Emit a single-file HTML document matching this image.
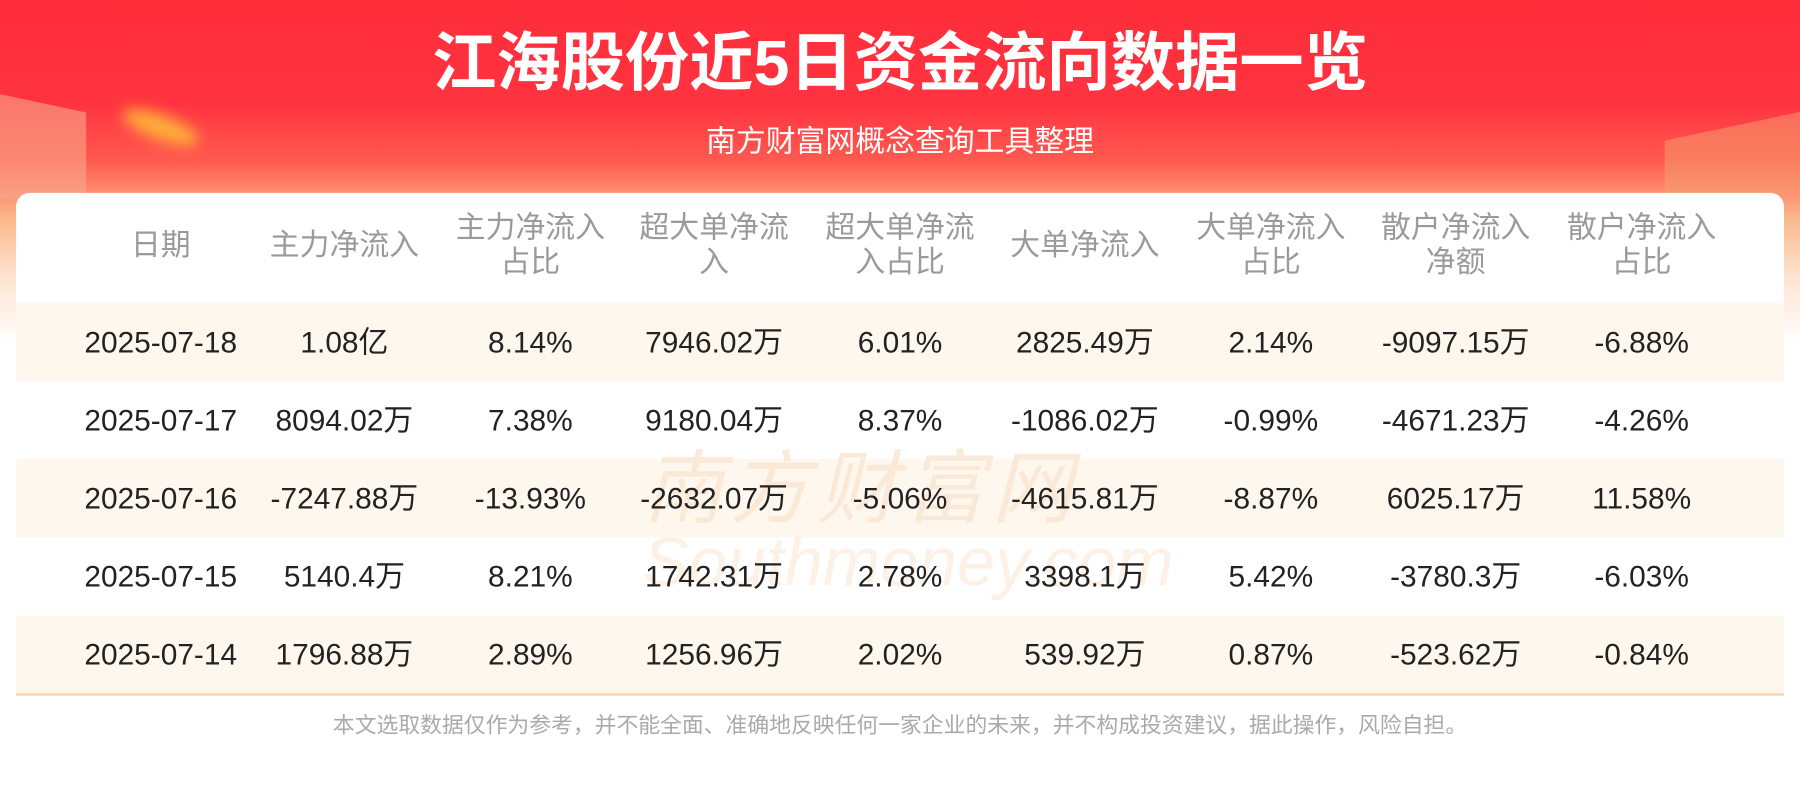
<!DOCTYPE html>
<html><head><meta charset="utf-8"><style>
html,body{margin:0;padding:0;width:1800px;height:800px;overflow:hidden;background:#fff}
#w{position:absolute;left:0;top:0;width:1568px;height:697px;transform:scale(1.148,1.148);transform-origin:0 0;font-family:"Liberation Sans","Noto Sans CJK SC",sans-serif;
background:linear-gradient(180deg,#ff2d3a 0px,#ff3340 90px,#ff5a50 140px,#fbb88a 190px,#fde3cf 240px,#fff 300px)}
.t{position:absolute;left:0;width:1568px;text-align:center;color:#fff}
#card{position:absolute;left:14px;top:168px;width:1540px;height:530px;background:#fff;border-radius:12px 12px 0 0}
.row{position:absolute;left:14px;width:1540px;height:68px}
.c{position:absolute;transform:translateX(-50%);text-align:center;white-space:nowrap}
.h{color:#9a9a9a;font-size:26px;line-height:30px}
.d{color:#222;font-size:26px;line-height:68px}
.glow{position:absolute;border-radius:50%;filter:blur(6px)}
</style></head><body><div id="w">
<div class="glow" style="left:105px;top:100px;width:70px;height:22px;background:#ffab3a;transform:rotate(20deg)"></div>
<div style="position:absolute;left:0;top:90px;width:75px;height:90px;background:#f8a78a;transform:skewY(12deg);opacity:.6"></div>
<div style="position:absolute;left:1450px;top:110px;width:118px;height:70px;background:#f5a170;opacity:.5;transform:skewY(-12deg)"></div>
<div class="t" style="top:20px;font-size:56px;font-weight:bold;line-height:70px">江海股份近5日资金流向数据一览</div>
<div class="t" style="top:106px;font-size:26px;line-height:34px">南方财富网概念查询工具整理</div>
<div id="card"></div>
<div class="c h" style="left:140px;top:198px">日期</div>
<div class="c h" style="left:300px;top:198px">主力净流入</div>
<div class="c h" style="left:462px;top:183px">主力净流入<br>占比</div>
<div class="c h" style="left:622px;top:183px">超大单净流<br>入</div>
<div class="c h" style="left:784px;top:183px">超大单净流<br>入占比</div>
<div class="c h" style="left:945px;top:198px">大单净流入</div>
<div class="c h" style="left:1107px;top:183px">大单净流入<br>占比</div>
<div class="c h" style="left:1268px;top:183px">散户净流入<br>净额</div>
<div class="c h" style="left:1430px;top:183px">散户净流入<br>占比</div>
<div class="row" style="top:264px;background:#fef7ee"></div>
<div class="row" style="top:400px;background:#fef7ee"></div>
<div class="row" style="top:536px;background:#fef7ee"></div>
<div style="position:absolute;left:14px;top:604px;width:1540px;height:2px;background:#fbd2a8"></div>
<div style="position:absolute;left:560px;top:370px;font-size:70px;color:#fbe6d2;font-style:italic;letter-spacing:6px;opacity:.8">南方财富网</div>
<div style="position:absolute;left:560px;top:455px;font-size:60px;color:#fdeee0;font-style:italic;opacity:.8">Southmoney.com</div>
<div class="t" style="top:621px;font-size:19px;color:#aaa;line-height:24px">本文选取数据仅作为参考，并不能全面、准确地反映任何一家企业的未来，并不构成投资建议，据此操作，风险自担。</div>
<div class="c d" style="left:140px;top:264px">2025-07-18</div><div class="c d" style="left:300px;top:264px">1.08亿</div><div class="c d" style="left:462px;top:264px">8.14%</div><div class="c d" style="left:622px;top:264px">7946.02万</div><div class="c d" style="left:784px;top:264px">6.01%</div><div class="c d" style="left:945px;top:264px">2825.49万</div><div class="c d" style="left:1107px;top:264px">2.14%</div><div class="c d" style="left:1268px;top:264px">-9097.15万</div><div class="c d" style="left:1430px;top:264px">-6.88%</div>
<div class="c d" style="left:140px;top:332px">2025-07-17</div><div class="c d" style="left:300px;top:332px">8094.02万</div><div class="c d" style="left:462px;top:332px">7.38%</div><div class="c d" style="left:622px;top:332px">9180.04万</div><div class="c d" style="left:784px;top:332px">8.37%</div><div class="c d" style="left:945px;top:332px">-1086.02万</div><div class="c d" style="left:1107px;top:332px">-0.99%</div><div class="c d" style="left:1268px;top:332px">-4671.23万</div><div class="c d" style="left:1430px;top:332px">-4.26%</div>
<div class="c d" style="left:140px;top:400px">2025-07-16</div><div class="c d" style="left:300px;top:400px">-7247.88万</div><div class="c d" style="left:462px;top:400px">-13.93%</div><div class="c d" style="left:622px;top:400px">-2632.07万</div><div class="c d" style="left:784px;top:400px">-5.06%</div><div class="c d" style="left:945px;top:400px">-4615.81万</div><div class="c d" style="left:1107px;top:400px">-8.87%</div><div class="c d" style="left:1268px;top:400px">6025.17万</div><div class="c d" style="left:1430px;top:400px">11.58%</div>
<div class="c d" style="left:140px;top:468px">2025-07-15</div><div class="c d" style="left:300px;top:468px">5140.4万</div><div class="c d" style="left:462px;top:468px">8.21%</div><div class="c d" style="left:622px;top:468px">1742.31万</div><div class="c d" style="left:784px;top:468px">2.78%</div><div class="c d" style="left:945px;top:468px">3398.1万</div><div class="c d" style="left:1107px;top:468px">5.42%</div><div class="c d" style="left:1268px;top:468px">-3780.3万</div><div class="c d" style="left:1430px;top:468px">-6.03%</div>
<div class="c d" style="left:140px;top:536px">2025-07-14</div><div class="c d" style="left:300px;top:536px">1796.88万</div><div class="c d" style="left:462px;top:536px">2.89%</div><div class="c d" style="left:622px;top:536px">1256.96万</div><div class="c d" style="left:784px;top:536px">2.02%</div><div class="c d" style="left:945px;top:536px">539.92万</div><div class="c d" style="left:1107px;top:536px">0.87%</div><div class="c d" style="left:1268px;top:536px">-523.62万</div><div class="c d" style="left:1430px;top:536px">-0.84%</div>
</div></body></html>
